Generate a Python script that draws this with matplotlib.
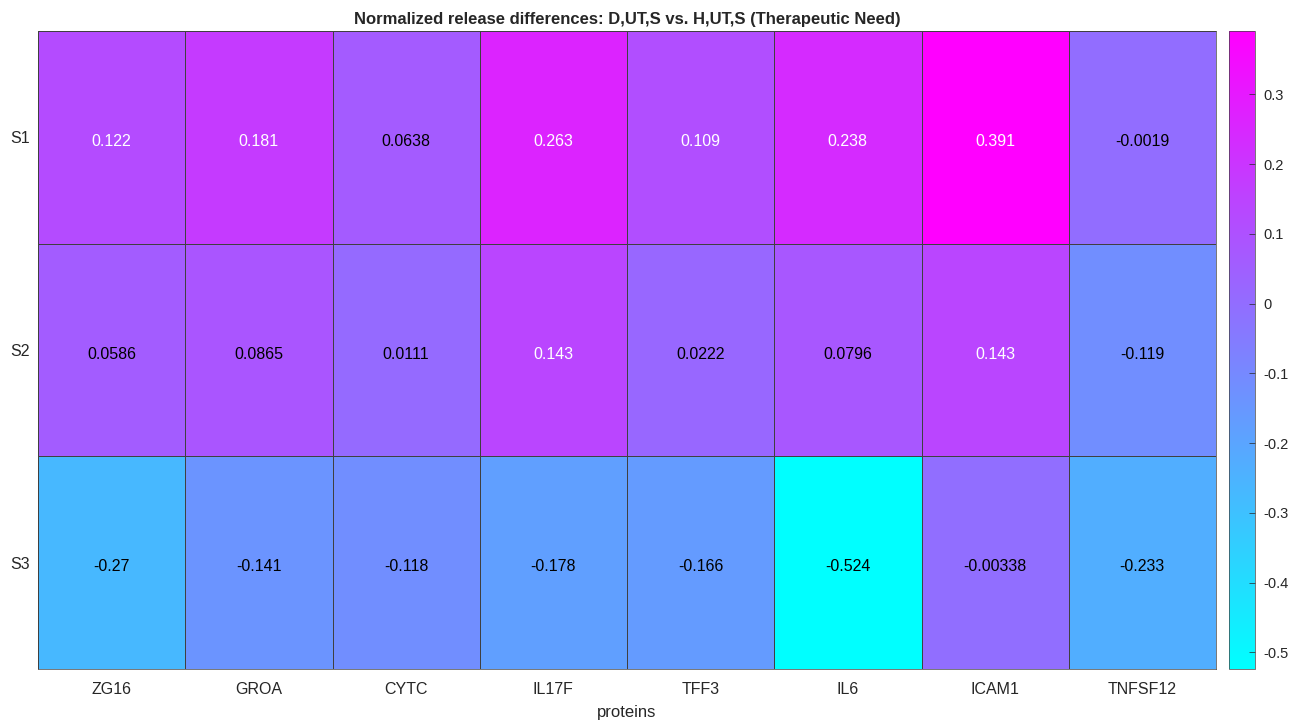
import numpy as np
import matplotlib
matplotlib.use("Agg")
import matplotlib.pyplot as plt
from matplotlib.colors import Normalize

plt.rcParams['font.family'] = ['Liberation Sans', 'DejaVu Sans']

proteins = ["ZG16", "GROA", "CYTC", "IL17F", "TFF3", "IL6", "ICAM1", "TNFSF12"]
rows = ["S1", "S2", "S3"]
s1 = [0.122, 0.181, 0.0638, 0.263, 0.109, 0.238, 0.391, -0.0019]
s2 = [0.0586, 0.0865, 0.0111, 0.143, 0.0222, 0.0796, 0.143, -0.119]
s3 = [-0.27, -0.141, -0.118, -0.178, -0.166, -0.524, -0.00338, -0.233]
labels = [["0.122", "0.181", "0.0638", "0.263", "0.109", "0.238", "0.391", "-0.0019"],
          ["0.0586", "0.0865", "0.0111", "0.143", "0.0222", "0.0796", "0.143", "-0.119"],
          ["-0.27", "-0.141", "-0.118", "-0.178", "-0.166", "-0.524", "-0.00338", "-0.233"]]

data = np.array([s1, s2, s3])
vmin, vmax = data.min(), data.max()

fig = plt.figure(figsize=(13.03, 7.23), dpi=100)
ax = fig.add_axes([38/1303, 1-669/723, 1178/1303, 638/723])
cax = fig.add_axes([1229/1303, 1-669/723, 26/1303, 638/723])

norm = Normalize(vmin=vmin, vmax=vmax)
mesh = ax.pcolormesh(np.arange(len(proteins)+1), np.arange(len(rows)+1), data,
                     cmap='cool', norm=norm, edgecolors='#404040', linewidth=0.5)
ax.set_xlim(0, len(proteins))
ax.set_ylim(len(rows), 0)
for i in range(len(rows)):
    for j in range(len(proteins)):
        v = data[i, j]
        col = 'white' if v > 0.1 else 'black'
        ax.text(j+0.5, i+0.52, labels[i][j], ha='center', va='center', fontsize=11.5, color=col)

ax.set_xticks(np.arange(len(proteins))+0.5)
ax.set_xticklabels(proteins, fontsize=11.5, color='#262626')
ax.set_yticks(np.arange(len(rows))+0.5)
ax.set_yticklabels(rows, fontsize=11.5, color='#262626')
ax.tick_params(axis='x', length=0, pad=9)
ax.tick_params(axis='y', length=0, pad=6)
for s in ax.spines.values():
    s.set_color('#404040')
    s.set_linewidth(0.5)
ax.set_xlabel("proteins", fontsize=12, color='#262626', labelpad=6)
ax.set_title("Normalized release differences: D,UT,S vs. H,UT,S (Therapeutic Need)",
             fontsize=12, fontweight='bold', color='#262626', pad=5)

cb = fig.colorbar(mesh, cax=cax)
cb.set_ticks([-0.5, -0.4, -0.3, -0.2, -0.1, 0, 0.1, 0.2, 0.3])
cb.set_ticklabels(["-0.5", "-0.4", "-0.3", "-0.2", "-0.1", "0", "0.1", "0.2", "0.3"])
cb.ax.tick_params(labelsize=10.5, length=4, width=0.5, direction='in', colors='#262626', pad=6)
cb.outline.set_edgecolor('#404040')
cb.outline.set_linewidth(0.5)

fig.savefig("out.png", dpi=100, facecolor='white')
